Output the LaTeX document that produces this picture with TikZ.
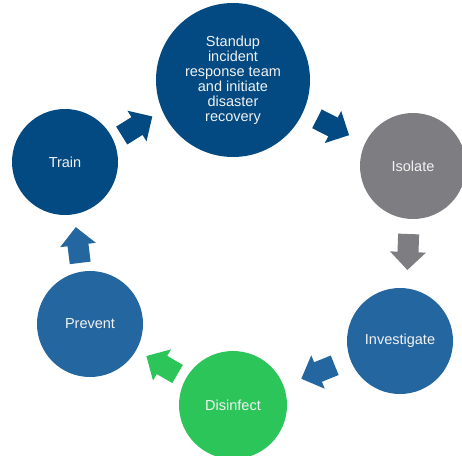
\documentclass[tikz,border=0pt]{standalone}
\usepackage{fontspec}
\setmainfont{Liberation Sans}
\definecolor{dblue}{HTML}{024A81}
\definecolor{mblue}{HTML}{2466A0}
\definecolor{sgray}{HTML}{7E7E82}
\definecolor{sgreen}{HTML}{2CC55A}
\definecolor{ltext}{HTML}{F2F2F2}
\tikzset{
  stage/.style={circle, inner sep=0pt, minimum size=#1, text=ltext, align=center,
    font=\fontsize{14.5}{15}\selectfont},
  blockarr/.pic={\fill (-18,10.5) -- (0,10.5) -- (0,18) -- (18,0) -- (0,-18) -- (0,-10.5) -- (-18,-10.5) -- cycle;}
}
\begin{document}
\begin{tikzpicture}[x=1pt,y=-1pt]
\useasboundingbox (0,0) rectangle (462,455);
\begin{scope}
\clip (0,0) rectangle (462,455);
\node[stage=154pt, fill=dblue] (top) at (233,80) {Standup\\incident\\response team\\and initiate\\disaster\\recovery};
\node[stage=106pt, fill=sgray] (isolate) at (413,166) {Isolate};
\node[stage=106pt, fill=mblue] (investigate) at (400,341) {Investigate};
\node[stage=108pt, fill=sgreen] (disinfect) at (233,405) {Disinfect};
\node[stage=106pt, fill=mblue] (prevent) at (90,324) {Prevent};
\node[stage=106pt, fill=dblue] (train) at (65,162) {Train};
\end{scope}
\pic[fill=dblue, rotate=32] at (137,126) {blockarr};
\pic[fill=dblue, rotate=-27] at (333,127) {blockarr};
\pic[fill=sgray, rotate=-92] at (408,252) {blockarr};
\pic[fill=mblue, rotate=202] at (318,372) {blockarr};
\pic[fill=sgreen, rotate=150] at (162,365) {blockarr};
\pic[fill=mblue, rotate=97] at (78,245) {blockarr};
\end{tikzpicture}
\end{document}
